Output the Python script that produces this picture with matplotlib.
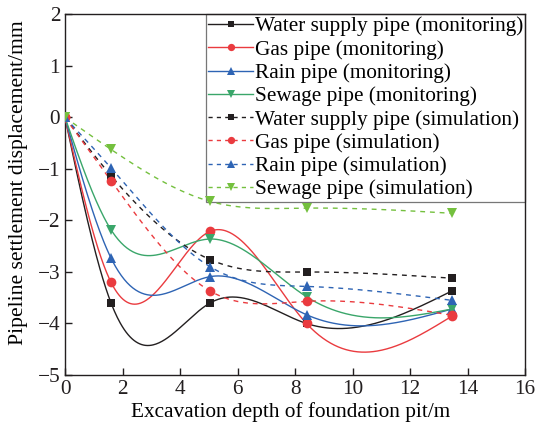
import numpy as np
import matplotlib
matplotlib.use("Agg")
import matplotlib.pyplot as plt

# ---- data ----
depth = [0, 1.6, 5.05, 8.4, 13.45]
water_mon = [0, -3.6, -3.6, -4.0, -3.37]
gas_mon = [0, -3.2, -2.21, -4.0, -3.86]
rain_mon = [0, -2.73, -3.09, -3.83, -3.72]
sewage_mon = [0, -2.18, -2.36, -3.48, -3.72]
water_sim = [0, -1.13, -2.76, -3.0, -3.12]
gas_sim = [0, -1.23, -3.37, -3.57, -3.84]
rain_sim = [0, -0.98, -2.9, -3.28, -3.55]
sewage_sim = [0, -0.62, -1.63, -1.76, -1.86]

labels = ["Water supply pipe (monitoring)", "Gas pipe (monitoring)",
          "Rain pipe (monitoring)", "Sewage pipe (monitoring)",
          "Water supply pipe (simulation)", "Gas pipe (simulation)",
          "Rain pipe (simulation)", "Sewage pipe (simulation)"]
xticks = [0, 2, 4, 6, 8, 10, 12, 14, 16]
yticks = [-5, -4, -3, -2, -1, 0, 1, 2]


def natural_spline(x, y, xs):
    """Natural cubic interpolating spline (smooth connection through points)."""
    x = np.asarray(x, float); y = np.asarray(y, float)
    n = len(x)
    h = np.diff(x)
    A = np.zeros((n, n)); b = np.zeros(n)
    A[0, 0] = 1; A[-1, -1] = 1
    for i in range(1, n - 1):
        A[i, i - 1] = h[i - 1]
        A[i, i] = 2 * (h[i - 1] + h[i])
        A[i, i + 1] = h[i]
        b[i] = 6 * ((y[i + 1] - y[i]) / h[i] - (y[i] - y[i - 1]) / h[i - 1])
    M = np.linalg.solve(A, b)
    idx = np.clip(np.searchsorted(x, xs) - 1, 0, n - 2)
    x0 = x[idx]; x1 = x[idx + 1]; hh = x1 - x0
    t0 = x1 - xs; t1 = xs - x0
    return (M[idx] * t0**3 / (6 * hh) + M[idx + 1] * t1**3 / (6 * hh)
            + (y[idx] / hh - M[idx] * hh / 6) * t0
            + (y[idx + 1] / hh - M[idx + 1] * hh / 6) * t1)


plt.rcParams['font.family'] = ['Liberation Serif', 'DejaVu Serif']

fig = plt.figure(figsize=(5.36, 4.22), dpi=100)
ax = fig.add_axes([0.1213, 0.1114, 0.8582, 0.8543])

black = '#231f20'
red = '#ea3b3f'
blue = '#2e64b4'
green_m = '#3aa66a'
green_s = '#74c03e'

series = [
    (water_mon, black, 's', '-'),
    (gas_mon, red, 'o', '-'),
    (rain_mon, blue, '^', '-'),
    (sewage_mon, green_m, 'v', '-'),
    (water_sim, black, 's', '--'),
    (gas_sim, red, 'o', '--'),
    (rain_sim, blue, '^', '--'),
    (sewage_sim, green_s, 'v', '--'),
]

xs = np.linspace(depth[0], depth[-1], 400)
handles = []
for (vals, col, mk, ls), lab in zip(series, labels):
    ys = natural_spline(depth, vals, xs)
    kw = dict(color=col, lw=1.0, zorder=3)
    if ls == '--':
        kw['dashes'] = (3.5, 3.5)
    ax.plot(xs, ys, **kw)
    ms = 6.2 if mk == 's' else 7.0
    ax.plot(depth, vals, linestyle='none', marker=mk, color=col, ms=ms,
            markeredgewidth=0, zorder=4)
    h, = ax.plot([], [], marker=mk, color=col, ms=ms, markeredgewidth=0,
                 lw=1.0, **({'dashes': (3.0, 3.0)} if ls == '--' else {}))
    handles.append(h)

ax.set_xlim(0, 16)
ax.set_ylim(-5, 2)
ax.set_xticks(xticks)
ax.set_yticks(yticks)
ax.set_yticklabels([str(v).replace('-', '\u2212') for v in yticks])
ax.tick_params(direction='in', length=5, width=1, labelsize=15.3, colors='#231f20')
for s in ax.spines.values():
    s.set_linewidth(1.0)
    s.set_color('#231f20')

ax.set_xlabel('Excavation depth of foundation pit/m', fontsize=15.3, labelpad=0)
ax.set_ylabel('Pipeline settlement displacement/mm', fontsize=15.6)
ax.yaxis.set_label_coords(-0.08, 0.534)
ax.xaxis.set_label_coords(0.49, -0.075)

leg = ax.legend(handles, labels, loc='upper right', bbox_to_anchor=(1.0, 1.0),
                borderaxespad=0, fontsize=15.3, frameon=True, fancybox=False,
                handlelength=2.1, handletextpad=0.08, labelspacing=0.16,
                borderpad=0.1, markerscale=0.75)
leg.set_zorder(2)
leg.get_frame().set_facecolor('none')
leg.get_frame().set_edgecolor('#555555')
leg.get_frame().set_linewidth(0.9)

fig.savefig('out.png', dpi=100)
